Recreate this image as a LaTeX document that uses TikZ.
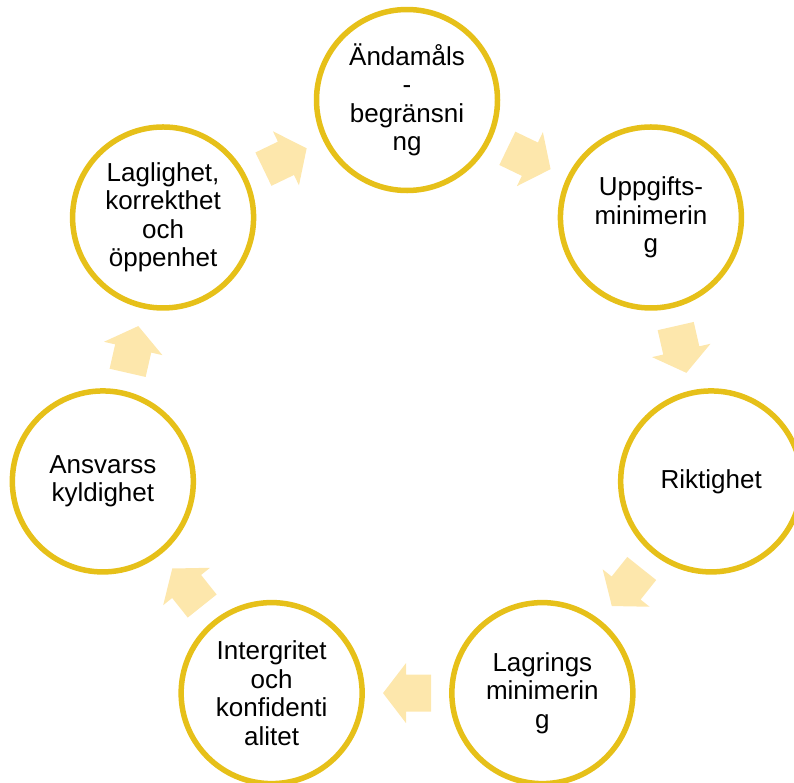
\documentclass[tikz,border=0pt]{standalone}
\usepackage{fontspec}
\setmainfont{Liberation Sans}
\usetikzlibrary{calc}
\definecolor{ring}{RGB}{230,192,25}
\definecolor{arr}{RGB}{253,231,172}
\begin{document}
\begin{tikzpicture}[x=1pt,y=1pt,
  stage/.style={circle, draw=ring, line width=5.5pt, fill=white, minimum size=181pt, inner sep=0pt, align=center, font=\fontsize{26}{28.5}\selectfont},
  cyc/.style={fill=arr, draw=none}]
\useasboundingbox (0,-782) rectangle (794,0);
\clip (0,-782) rectangle (794,0);
\coordinate (C) at (407,-412);
\node[stage] (n0) at ($(C)+(90:312)$) {Ändamåls\\-\\begränsni\\ng};
\node[stage] (n1) at ($(C)+({90-360/7}:312)$) {Uppgifts-\\minimerin\\g};
\node[stage] (n2) at ($(C)+({90-2*360/7}:312)$) {Riktighet};
\node[stage] (n3) at ($(C)+({90-3*360/7}:312)$) {Lagrings\\minimerin\\g};
\node[stage] (n4) at ($(C)+({90-4*360/7}:312)$) {Intergritet\\och\\konfidenti\\alitet};
\node[stage] (n5) at ($(C)+({90-5*360/7}:312)$) {Ansvarss\\kyldighet};
\node[stage] (n6) at ($(C)+({90-6*360/7}:312)$) {Laglighet,\\korrekthet\\och\\öppenhet};
\foreach \k/\j in {0/1,1/2,2/3,3/4,4/5,5/6,6/0} {
  \pgfmathsetmacro\rot{-(\k+0.5)*360/7}
  \fill[cyc, shift={($(n\k)!0.5!(n\j)$)}, rotate=\rot]
    (-24,-18.5) -- (1,-18.5) -- (1,-30) -- (24,0) -- (1,30) -- (1,18.5) -- (-24,18.5) -- cycle;
}
\end{tikzpicture}
\end{document}
